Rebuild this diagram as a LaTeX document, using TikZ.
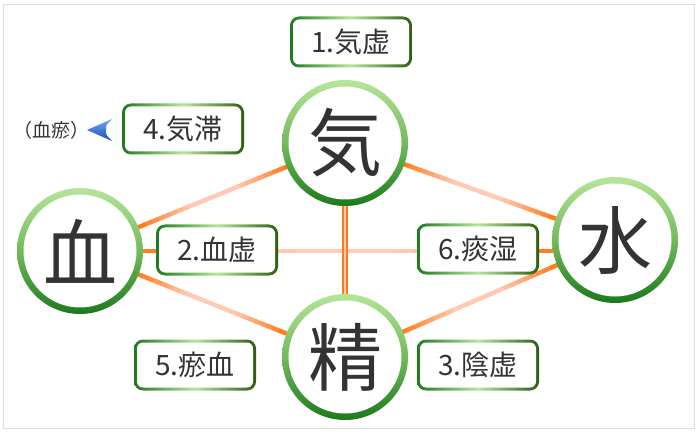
\documentclass[tikz,border=0pt]{standalone}
\usepackage{fontspec}
\newfontfamily\jpfont{Noto Sans CJK JP}
\usetikzlibrary{calc,backgrounds}

\definecolor{ringlight}{HTML}{B6E59A}
\definecolor{ringmid}{HTML}{72BA5C}
\definecolor{ringdark}{HTML}{1C7A1C}
\definecolor{boxleft}{HTML}{1F7A1F}
\definecolor{boxright}{HTML}{2E5E0C}
\definecolor{linkorange}{HTML}{FF7A1C}
\definecolor{linkpeach}{HTML}{FFCBB4}
\definecolor{inkgray}{HTML}{333333}
\definecolor{framegray}{HTML}{DDDDDD}
\definecolor{arrowlight}{HTML}{6AA8F5}
\definecolor{arrowdark}{HTML}{1A4DB0}

% orange link, pale in the middle
\newcommand{\gradlink}[2]{%
  \coordinate (lkA) at ($(#1)!63pt!(#2)$);
  \coordinate (lkB) at ($(#2)!63pt!(#1)$);
  \foreach \i in {1,...,24}{%
    \pgfmathtruncatemacro{\mixp}{min(100,140*(1-abs(\i-12.5)/12))}
    \draw[line width=4.5pt, line cap=round, linkpeach!\mixp!linkorange]
      ($(lkA)!{(\i-1)/24}!(lkB)$) -- ($(lkA)!{\i/24}!(lkB)$);
  }}

\tikzset{
  element/.style={circle, minimum size=126pt, inner sep=0pt, text=inkgray,
    font=\jpfont\fontsize{74}{74}\selectfont,
    path picture={
      \shade[top color=ringlight, bottom color=ringdark, middle color=ringmid]
        (path picture bounding box.south west) rectangle (path picture bounding box.north east);
      \fill[white] (path picture bounding box.center) circle (56.5pt);
    }},
  symptom/.style={rectangle, rounded corners=9pt, minimum width=122pt, minimum height=51pt,
    inner sep=0pt, text=inkgray, font=\jpfont\fontsize{28}{28}\selectfont,
    path picture={
      \shade[left color=boxleft, right color=boxright, middle color=ringlight]
        (path picture bounding box.south west) rectangle (path picture bounding box.north east);
      \fill[white, rounded corners=6pt]
        ($(path picture bounding box.south west)+(3pt,3pt)$) rectangle
        ($(path picture bounding box.north east)+(-3pt,-3pt)$);
    }},
  note/.style={inner sep=0pt, text=inkgray, font=\jpfont\fontsize{19}{19}\selectfont},
}

\begin{document}
\begin{tikzpicture}[x=1pt,y=-1pt]
\useasboundingbox (0,0) rectangle (700,435);
\draw[framegray, line width=1pt] (3,5) rectangle (694,428);

\node[element] (ki) at (345,143) {気};
\node[element] (ketsu) at (80,251) {血};
\node[element] (sui) at (615,240) {水};
\node[element] (sei) at (345,357) {精};

\node[symptom] (kikyo) at (351,42) {1.気虚};
\node[symptom] (kekkyo) at (217,250) {2.血虚};
\node[symptom] (inkyo) at (478,365) {3.陰虚};
\node[symptom] (kitai) at (183,129) {4.気滞};
\node[symptom] (oketsu) at (195,365) {5.瘀血};
\node[symptom] (tanshitsu) at (478,249) {6.痰湿};

\node[note] (oketsunote) at (51,130) {（血瘀）};
\shade[top color=arrowlight, bottom color=arrowdark]
  (87,130) -- (112,119) .. controls (106,125) .. (106,130)
  .. controls (106,135) .. (112,141) -- cycle;

\begin{scope}[on background layer]
\coordinate (suilevel) at (ketsu -| sui);
\gradlink{ki}{ketsu}
\gradlink{ki}{sui}
\gradlink{ketsu}{sei}
\gradlink{sei}{sui}
\gradlink{ketsu}{suilevel}
\draw[linkorange, line width=6pt] (ki) -- (sei);
\draw[linkpeach, line width=1.8pt] (ki) -- (sei);
\end{scope}
\end{tikzpicture}
\end{document}
